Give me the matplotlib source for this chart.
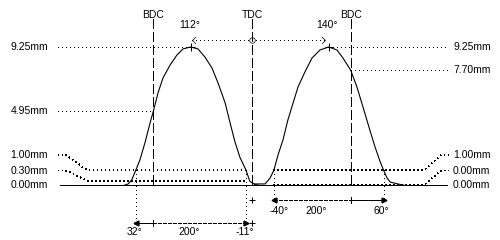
import matplotlib
matplotlib.use('Agg')
import matplotlib.pyplot as plt
from matplotlib.path import Path

# =============================================
# DATA (crank angle in degrees from TDC, lift in mm)
# =============================================

# exhaust lobe (left)
ex_angle = [-232, -226, -219.5, -212, -204.5, -195.5, -186, -180, -171.5, -162.5,
            -149.5, -137, -126, -112, -98.5, -86, -73, -62, -49, -40,
            -31, -22, -11, -4, 5, 11]
ex_lift = [0.0, 0.07, 0.34, 1.0, 1.68, 2.81, 4.16, 4.95, 6.17, 7.17,
           8.04, 8.71, 9.12, 9.25, 9.12, 8.58, 7.84, 6.84, 5.50, 4.16,
           2.88, 1.85, 1.0, 0.25, 0.04, 0.0]

# intake lobe (right)
in_angle = [5, 24, 33, 40, 47.5, 56.5, 65.5, 75, 84, 96.5,
            109.5, 124, 140, 155, 166, 180, 191.5, 202.5, 215, 224.5,
            233.5, 240, 246, 252, 266, 276]
in_lift = [0.07, 0.07, 0.47, 1.0, 2.01, 3.02, 4.36, 5.50, 6.57, 7.57,
           8.51, 9.05, 9.25, 9.05, 8.51, 7.70, 6.57, 5.23, 3.69, 2.55,
           1.6, 1.0, 0.5, 0.2, 0.07, 0.0]

max_lift = 9.25
ex_peak_angle = -112
in_peak_angle = 140
ex_bdc_lift = 4.95
in_bdc_lift = 7.70
ex_check_lifts = [1.00, 0.30]
in_check_lifts = [1.00, 0.00]

ex_open, ex_close = -212, -11
in_open, in_close = 40, 240
ex_labels = ['32°', '200°', '-11°']
in_labels = ['-40°', '200°', '60°']

dead_centres = [-180, 0, 180]
dead_centre_labels = ['BDC', 'TDC', 'BDC']

# =============================================
# LAYOUT (pixel helpers)
# =============================================

X0, KX = 252, 0.548     # px of TDC, px per degree
Y0, KY = 185, 14.92     # px of zero lift, px per mm


def px_x(p):
    return (p - X0) / KX


def px_y(p):
    return (Y0 - p) / KY


plt.rcParams['lines.antialiased'] = False
LW = 0.72   # one pixel
font = dict(family='Liberation Sans', fontsize=7.5, color='black')
solid = dict(color='black', lw=LW)
dotted = dict(color='black', lw=0.6, ls=(0, (1.2, 3.6)))
dashed = dict(color='black', lw=LW, ls=(0, (10, 4)))
short_dash = dict(color='black', lw=LW, ls=(0, (4, 2)))

fig = plt.figure(figsize=(5, 2.4), dpi=100)
ax = fig.add_axes([0, 0, 1, 1])
ax.set_xlim(px_x(0), px_x(500))
ax.set_ylim(px_y(240), px_y(0))
ax.axis('off')

# baseline
ax.plot([px_x(60), px_x(447)], [0, 0], color='black', lw=LW)

# lift curves
ax.plot(ex_angle, ex_lift, color='black', lw=0.8, antialiased=True)
ax.plot(in_angle, in_lift, color='black', lw=0.8, antialiased=True)

# dead centre lines
for a, lab in zip(dead_centres, dead_centre_labels):
    ax.plot([a, a], [px_y(19), 0], **dashed)
    ax.text(a, px_y(15.5), lab, ha='center', va='center', **font)

# peaks
ax.plot([ex_peak_angle, in_peak_angle], [max_lift, max_lift], 'k+',
        ms=6, mew=LW, ls='none')
ax.text(ex_peak_angle - 2, px_y(25), f'{-ex_peak_angle}°', ha='center',
        va='center', **font)
ax.text(in_peak_angle - 4, px_y(25), f'{in_peak_angle}°', ha='center',
        va='center', **font)

# lobe centre arrow with TDC circle
y_arr = px_y(39.5)
ax.plot([px_x(192), px_x(325)], [y_arr, y_arr], **dotted)
left_chev = Path([(1, 1), (0, 0), (1, -1)],
                 [Path.MOVETO, Path.LINETO, Path.LINETO])
right_chev = Path([(-1, 1), (0, 0), (-1, -1)],
                  [Path.MOVETO, Path.LINETO, Path.LINETO])
ax.plot(px_x(192), y_arr, marker=left_chev, ms=5, mfc='none', mec='black',
        mew=0.5)
ax.plot(px_x(325), y_arr, marker=right_chev, ms=5, mfc='none', mec='black',
        mew=0.5)
ax.plot(0, y_arr, marker='o', ms=4, mfc='none', mec='black', mew=0.5)

# max lift lines
ax.plot([px_x(58), ex_peak_angle], [max_lift, max_lift], **dotted)
ax.plot([in_peak_angle, px_x(449)], [max_lift, max_lift], **dotted)
ax.text(px_x(48), max_lift, f'{max_lift:.2f}mm', ha='right', va='center', **font)
ax.text(px_x(453), max_lift, f'{max_lift:.2f}mm', ha='left', va='center', **font)

# lift at BDC
ax.plot([px_x(58), dead_centres[0]], [ex_bdc_lift, ex_bdc_lift], **dotted)
ax.plot([dead_centres[2], px_x(449)], [in_bdc_lift, in_bdc_lift], **dotted)
ax.text(px_x(48), ex_bdc_lift, f'{ex_bdc_lift:.2f}mm', ha='right',
        va='center', **font)
ax.text(px_x(453), in_bdc_lift, f'{in_bdc_lift:.2f}mm', ha='left',
        va='center', **font)

# check lifts with leaders
for lift, lab_py in zip(ex_check_lifts, [155, 170.5]):
    ax.plot([px_x(58), px_x(66), px_x(87), ex_close],
            [px_y(lab_py), px_y(lab_py), lift, lift], **dotted)
    ax.text(px_x(48), px_y(lab_py), f'{lift:.2f}mm', ha='right',
            va='center', **font)
for lift, lab_py in zip(in_check_lifts, [155, 170.5]):
    ax.plot([in_open, px_x(424), px_x(441), px_x(449)],
            [lift, lift, px_y(lab_py), px_y(lab_py)], **dotted)
    ax.text(px_x(453), px_y(lab_py), f'{lift:.2f}mm', ha='left',
            va='center', **font)
ax.text(px_x(48), 0, '0.00mm', ha='right', va='center', **font)
ax.text(px_x(453), 0, '0.00mm', ha='left', va='center', **font)

# exhaust duration
y_ex = px_y(222.5)
for a in (ex_open, ex_close):
    ax.plot([a, a], [ex_check_lifts[0], y_ex], **dotted)
ax.plot([ex_open, dead_centres[0]], [y_ex, y_ex], **solid)
ax.plot([dead_centres[0], ex_close], [y_ex, y_ex], **short_dash)
ax.plot([dead_centres[0]] * 2, [px_y(219.5), px_y(225.5)], **solid)
ax.plot(ex_open, y_ex, marker='<', ms=3.5, color='black')
ax.plot(ex_close, y_ex, marker='>', ms=3.5, color='black')
ax.plot(0, y_ex, 'k+', ms=5, mew=LW)
for px, lab in zip([135, 189, 245], ex_labels):
    ax.text(px_x(px), px_y(232), lab, ha='center', va='center', **font)

# intake duration
y_in = px_y(200)
for a in (in_open, in_close):
    ax.plot([a, a], [in_check_lifts[0], y_in], **dotted)
ax.plot([in_open, dead_centres[2]], [y_in, y_in], **short_dash)
ax.plot([dead_centres[2], in_close], [y_in, y_in], **solid)
ax.plot([dead_centres[2]] * 2, [px_y(197), px_y(203)], **solid)
ax.plot(in_open, y_in, marker='<', ms=3.5, color='black')
ax.plot(in_close, y_in, marker='>', ms=3.5, color='black')
ax.plot(0, y_in, 'k+', ms=5, mew=LW)
for px, lab in zip([279, 316, 381], in_labels):
    ax.text(px_x(px), px_y(211), lab, ha='center', va='center', **font)

fig.savefig('out.png', dpi=100, facecolor='white')
